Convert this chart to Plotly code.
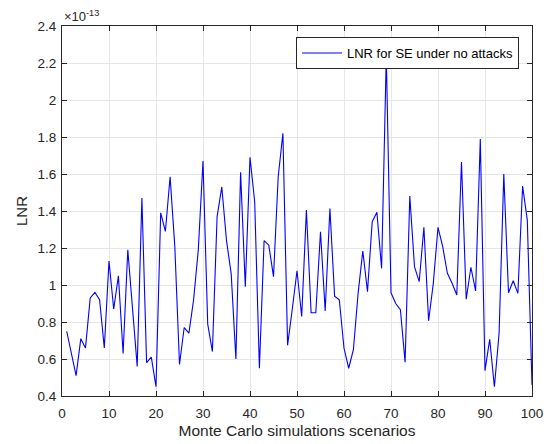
import plotly.graph_objects as go

# Monte Carlo scenario index
scenarios = list(range(1, 101))

# LNR values in units of 1e-13
lnr_e13 = [
    0.75, 0.63, 0.51, 0.71, 0.66, 0.93, 0.96, 0.92, 0.66, 1.13,
    0.87, 1.05, 0.63, 1.19, 0.88, 0.56, 1.47, 0.58, 0.61, 0.45,
    1.39, 1.29, 1.585, 1.21, 0.57, 0.77, 0.74, 0.92, 1.19, 1.67,
    0.79, 0.64, 1.37, 1.53, 1.24, 1.06, 0.60, 1.61, 0.99, 1.69,
    1.45, 0.55, 1.24, 1.215, 1.045, 1.585, 1.82, 0.675, 0.87, 1.077,
    0.83, 1.405, 0.85, 0.85, 1.288, 0.86, 1.414, 0.94, 0.92, 0.658,
    0.55, 0.65, 0.955, 1.184, 0.964, 1.342, 1.393, 1.09, 2.24, 0.958,
    0.9, 0.867, 0.583, 1.481, 1.099, 1.018, 1.312, 0.807, 1.009, 1.312,
    1.207, 1.063, 1.009, 0.946, 1.665, 0.923, 1.096, 0.968, 1.789, 0.537,
    0.706, 0.45, 0.739, 1.6, 0.958, 1.023, 0.955, 1.535, 1.351, 0.46,
]

series_name = "LNR for SE under no attacks"
x_title = "Monte Carlo simulations scenarios"
y_title = "LNR"
exponent_label = "×10<sup>-13</sup>"

x_ticks = [0, 10, 20, 30, 40, 50, 60, 70, 80, 90, 100]
y_ticks = [0.4, 0.6, 0.8, 1.0, 1.2, 1.4, 1.6, 1.8, 2.0, 2.2, 2.4]
y_tick_text = ["0.4", "0.6", "0.8", "1", "1.2", "1.4", "1.6", "1.8", "2", "2.2", "2.4"]

FONT = "Liberation Sans, Arial, Helvetica, sans-serif"
TXT = "#262626"

fig = go.Figure()
fig.add_trace(go.Scatter(
    x=scenarios, y=lnr_e13, mode="lines", name=series_name,
    line=dict(color="#0000FF", width=1.1),
    showlegend=True,
))

axis_common = dict(
    showline=True, linecolor="#262626", linewidth=1, mirror="ticks",
    ticks="inside", ticklen=5, tickcolor="#262626",
    showgrid=True, gridcolor="#E6E6E6", gridwidth=1,
    zeroline=False, automargin=False,
    tickfont=dict(family=FONT, size=13.5, color=TXT),
)

fig.update_layout(
    width=554, height=444,
    margin=dict(l=62, r=22, t=26, b=48),
    paper_bgcolor="white", plot_bgcolor="white",
    font=dict(family=FONT, size=13, color=TXT),
    xaxis=dict(
        range=[0, 100], tickvals=x_ticks,
        ticklabelstandoff=5,
        title=dict(text=x_title, font=dict(family=FONT, size=15.5, color=TXT), standoff=4),
        **axis_common,
    ),
    yaxis=dict(
        range=[0.4, 2.4], tickvals=y_ticks, ticktext=y_tick_text,
        ticklabelstandoff=2,
        title=dict(text=y_title, font=dict(family=FONT, size=15, color=TXT), standoff=6),
        **axis_common,
    ),
    legend=dict(
        x=0.9723, y=0.9703, xanchor="right", yanchor="top",
        bgcolor="white", bordercolor="#262626", borderwidth=1,
        font=dict(family=FONT, size=13, color="#000000"),
        itemwidth=40,
        tracegroupgap=0,
    ),
    annotations=[dict(
        text=exponent_label, xref="paper", yref="paper",
        x=0, y=1.0, xanchor="left", yanchor="bottom",
        showarrow=False, font=dict(family=FONT, size=13, color=TXT),
        yshift=0,
    )],
)

fig.write_html(
    "out.html",
    config={"displayModeBar": False},
    post_script="document.body.style.margin='0px';",
)
